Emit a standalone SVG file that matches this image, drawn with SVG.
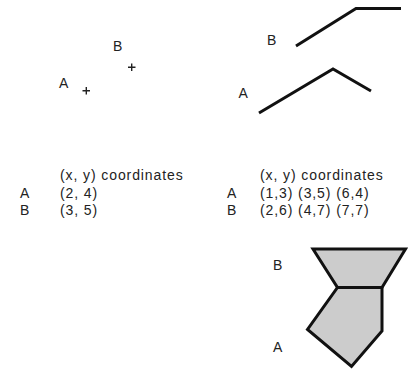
<svg xmlns="http://www.w3.org/2000/svg" width="414" height="369" viewBox="0 0 414 369">
<style>
text{font-family:"Liberation Sans",Arial,sans-serif;fill:#222}
.lbl{font-size:14px}
.tbl{font-size:14px;letter-spacing:0.9px}
.plus{stroke:#222;stroke-width:1.4;fill:none}
.ln{stroke:#111;stroke-width:3;fill:none;stroke-linejoin:miter}
.poly{stroke:#111;stroke-width:3;fill:#cccccc;stroke-linejoin:miter}
</style>
<rect width="414" height="369" fill="#fff"/>
<g id="points">
<g id="pointB"><text class="lbl" x="113" y="51">B</text><path class="plus" d="M128 67.3h7.5M131.7 63.5v7.5"/></g>
<g id="pointA"><text class="lbl" x="59" y="88">A</text><path class="plus" d="M82.5 90.7h7.5M86.3 87v7.5"/></g>
</g>
<g id="lines">
<g id="lineB"><text class="lbl" x="267" y="45">B</text><polyline class="ln" points="296,46 356,8.5 401,8.5"/></g>
<g id="lineA"><text class="lbl" x="238.5" y="97.5">A</text><polyline class="ln" points="259,113 333,69 371,91"/></g>
</g>
<g id="table-left">
<text class="tbl" x="60" y="180">(x, y) coordinates</text>
<text class="tbl" x="20" y="198">A</text><text class="tbl" x="60" y="198">(2, 4)</text>
<text class="tbl" x="20" y="215">B</text><text class="tbl" x="60" y="215">(3, 5)</text>
</g>
<g id="table-right">
<text class="tbl" x="260" y="180">(x, y) coordinates</text>
<text class="tbl" x="227" y="198">A</text><text class="tbl" x="260" y="198">(1,3) (3,5) (6,4)</text>
<text class="tbl" x="227" y="215">B</text><text class="tbl" x="260" y="215">(2,6) (4,7) (7,7)</text>
</g>
<g id="polygons">
<g id="polyB"><text class="lbl" x="273" y="270">B</text><polygon class="poly" points="313,249 405.5,249 382,287.5 337.5,287.5"/></g>
<g id="polyA"><text class="lbl" x="273" y="352">A</text><polygon class="poly" points="337.5,287.5 382,287.5 382,331 351.5,366.5 307.5,329.5"/></g>
</g>
</svg>
